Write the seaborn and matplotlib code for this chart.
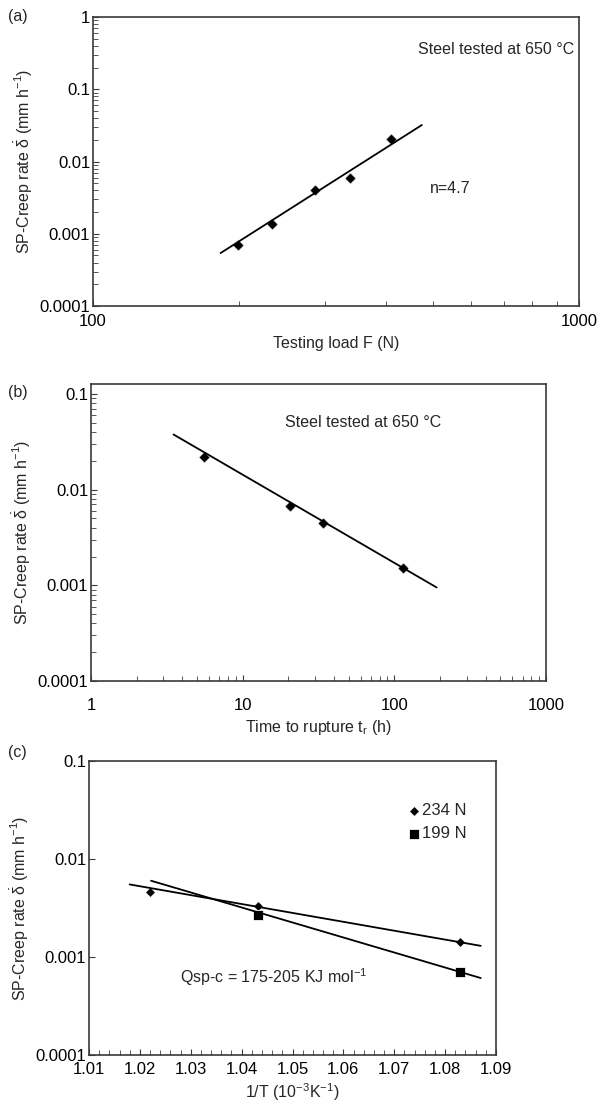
import matplotlib
matplotlib.use('Agg')
import matplotlib.pyplot as plt
import matplotlib.ticker as mticker
import numpy as np
import pandas as pd
import seaborn as sns

sns.set_style('ticks')
plt.rcParams['font.family'] = ['Liberation Sans', 'DejaVu Sans']
plt.rcParams['mathtext.fontset'] = 'custom'
plt.rcParams['mathtext.rm'] = 'Liberation Sans'
plt.rcParams['mathtext.it'] = 'Liberation Sans:italic'
plt.rcParams['mathtext.default'] = 'regular'

# (a) creep rate vs testing load
a_load = [199, 234, 286, 338, 410]
a_rate = [0.00069, 0.00137, 0.0040, 0.0059, 0.0204]
a_fit_load = [183, 475]
a_fit_rate = [0.00054, 0.032]

# (b) creep rate vs time to rupture
b_time = [5.6, 20.4, 33.9, 114]
b_rate = [0.022, 0.0067, 0.0045, 0.0015]
b_fit_time = [3.5, 190]
b_fit_rate = [0.0377, 0.00095]

# (c) creep rate vs 1/T
c_invT_234 = [1.022, 1.0432, 1.0829]
c_rate_234 = [0.0046, 0.0033, 0.00142]
c_invT_199 = [1.0432, 1.0829]
c_rate_199 = [0.0027, 0.0007]
c_fit234_x = [1.018, 1.087]
c_fit234_y = [0.0055, 0.0013]
c_fit199_x = [1.0222, 1.087]
c_fit199_y = [0.0060, 0.00061]

W, H = 603, 1104
FS = 11.5
fig = plt.figure(figsize=(W / 100, H / 100), dpi=100)


def box(l, r, t, b):
    return [l / W, 1 - b / H, (r - l) / W, (b - t) / H]


ylab = r'SP-Creep rate $\dot{\delta}$ (mm h$^{-1}$)'
fmt = mticker.FuncFormatter(lambda v, p: '{:g}'.format(v))


def style(ax, xpad):
    for s in ax.spines.values():
        s.set_color('#3a3a3a')
        s.set_linewidth(1.2)
        s.set_visible(True)
    ax.tick_params(which='both', direction='in', top=False, right=False,
                   colors='#3a3a3a', labelcolor='black', labelsize=12)
    ax.tick_params(axis='y', which='both', pad=2)
    ax.tick_params(axis='x', which='both', pad=xpad)
    ax.tick_params(which='major', length=4)
    ax.tick_params(which='minor', length=3.5)
    ax.set_ylabel(ylab, fontsize=FS, labelpad=3)


# ---- (a)
ax = fig.add_axes(box(93, 579, 17, 306))
sns.lineplot(x=a_fit_load, y=a_fit_rate, color='black', lw=1.3, ax=ax)
sns.scatterplot(x=a_load, y=a_rate, marker='D', s=32, color='black', ax=ax)
ax.set_xscale('log'); ax.set_yscale('log')
ax.set_xlim(100, 1000); ax.set_ylim(1e-4, 1)
ax.xaxis.set_major_formatter(fmt); ax.yaxis.set_major_formatter(fmt)
ax.xaxis.set_minor_formatter(mticker.NullFormatter())
style(ax, 6)
ax.set_xlabel('Testing load F (N)', fontsize=FS, labelpad=5)
ax.text(0.669, 0.886, 'Steel tested at 650 °C', transform=ax.transAxes,
        fontsize=FS, va='center')
ax.text(0.693, 0.405, 'n=4.7', transform=ax.transAxes, fontsize=FS, va='center')
fig.text(8 / W, 1 - 17 / H, '(a)', fontsize=FS, va='center')

# ---- (b)
ax = fig.add_axes(box(91, 546, 384, 681))
sns.lineplot(x=b_fit_time, y=b_fit_rate, color='black', lw=1.3, ax=ax)
sns.scatterplot(x=b_time, y=b_rate, marker='D', s=32, color='black', ax=ax)
ax.set_xscale('log'); ax.set_yscale('log')
ax.set_xlim(1, 1000); ax.set_ylim(1e-4, 0.127)
ax.set_yticks([1e-4, 1e-3, 1e-2, 1e-1])
ax.xaxis.set_major_formatter(fmt); ax.yaxis.set_major_formatter(fmt)
ax.yaxis.set_minor_formatter(mticker.NullFormatter())
ax.xaxis.set_minor_formatter(mticker.NullFormatter())
style(ax, 12)
ax.set_xlabel('Time to rupture t$_r$ (h)', fontsize=FS, labelpad=4)
ax.text(0.426, 0.869, 'Steel tested at 650 °C', transform=ax.transAxes,
        fontsize=FS, va='center')
fig.text(8 / W, 1 - 392 / H, '(b)', fontsize=FS, va='center')

# ---- (c)
ax = fig.add_axes(box(89, 496, 761, 1055))
sns.lineplot(x=c_fit234_x, y=c_fit234_y, color='black', lw=1.3, ax=ax)
sns.lineplot(x=c_fit199_x, y=c_fit199_y, color='black', lw=1.3, ax=ax)
sns.scatterplot(x=c_invT_234, y=c_rate_234, marker='D', s=24, color='black',
                ax=ax, label='234 N')
sns.scatterplot(x=c_invT_199, y=c_rate_199, marker='s', s=48, color='black',
                ax=ax, label='199 N')
ax.set_yscale('log')
ax.set_xlim(1.01, 1.09); ax.set_ylim(1e-4, 0.1)
ax.set_xticks(np.round(np.arange(1.01, 1.0901, 0.01), 2))
ax.xaxis.set_minor_locator(mticker.MultipleLocator(0.002))
ax.xaxis.set_major_formatter(mticker.FormatStrFormatter('%.2f'))
ax.yaxis.set_major_formatter(fmt)
ax.yaxis.set_minor_locator(mticker.NullLocator())
style(ax, 5)
ax.set_xlabel('1/T (10$^{-3}$K$^{-1}$)', fontsize=FS, labelpad=3)
ax.legend(loc='upper left', bbox_to_anchor=(0.77, 0.88), frameon=False,
          fontsize=FS + 0.5, handlelength=0.6, handletextpad=0.2, labelspacing=0.5,
          borderaxespad=0)
ax.text(0.224, 0.265, 'Qsp-c = 175-205 KJ mol$^{-1}$', transform=ax.transAxes,
        fontsize=FS, va='center')
fig.text(8 / W, 1 - 753 / H, '(c)', fontsize=FS, va='center')

fig.savefig('out.png', dpi=100)
